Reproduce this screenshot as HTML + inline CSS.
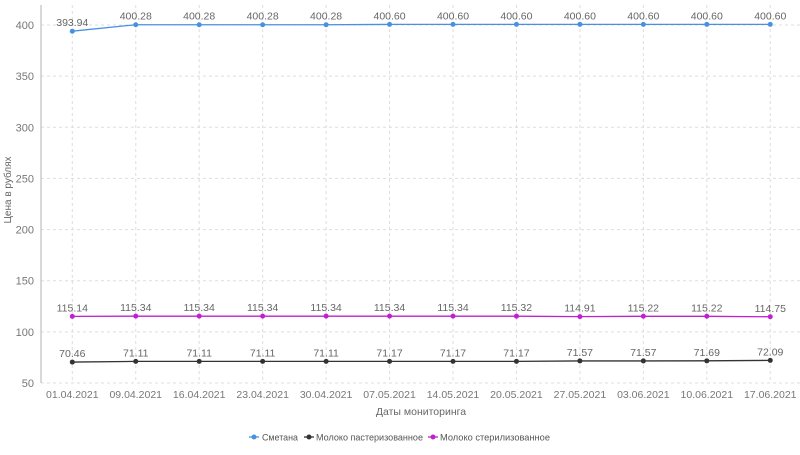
<!DOCTYPE html><html><head><meta charset="utf-8"><style>body{margin:0;background:#fff}svg{font-family:"Liberation Sans",sans-serif}</style></head><body>
<svg id="s" width="800" height="450" xmlns="http://www.w3.org/2000/svg"></svg>
<script>
const s=document.getElementById('s');let h='';
const Y=v=>383-(v-50)*358/350, X=i=>72.3+i*63.45;
const dates=['01.04.2021','09.04.2021','16.04.2021','23.04.2021','30.04.2021','07.05.2021','14.05.2021','20.05.2021','27.05.2021','03.06.2021','10.06.2021','17.06.2021'];
for(let v=50;v<=400;v+=50){h+=`<line x1="41" x2="800" y1="${Y(v)}" y2="${Y(v)}" stroke="#ddd" stroke-dasharray="3,3"/><text x="34" y="${Y(v)+4}" text-anchor="end" font-size="11" fill="#777">${v}</text>`;}
dates.forEach((d,i)=>{h+=`<line x1="${X(i)}" x2="${X(i)}" y1="5" y2="383" stroke="#ddd" stroke-dasharray="3,3"/><text x="${X(i)}" y="398" text-anchor="middle" font-size="10.5" fill="#777">${d}</text>`;});
h+=`<line x1="41" x2="41" y1="5" y2="383" stroke="#ccc" stroke-width="1.5"/>`;
const S=[['#4a90e2',[393.94,400.28,400.28,400.28,400.28,400.60,400.60,400.60,400.60,400.60,400.60,400.60]],
['#333',[70.46,71.11,71.11,71.11,71.11,71.17,71.17,71.17,71.57,71.57,71.69,72.09]],
['#c020d0',[115.14,115.34,115.34,115.34,115.34,115.34,115.34,115.32,114.91,115.22,115.22,114.75]]];
S.forEach(([c,d])=>{h+=`<polyline fill="none" stroke="${c}" stroke-width="1.3" points="${d.map((v,i)=>X(i)+','+Y(v)).join(' ')}"/>`;
d.forEach((v,i)=>{h+=`<circle cx="${X(i)}" cy="${Y(v)}" r="2.5" fill="${c}"/><text x="${X(i)}" y="${Y(v)-5}" text-anchor="middle" font-size="10.5" fill="#666">${v.toFixed(2)}</text>`;});});
h+=`<text x="421" y="415" text-anchor="middle" font-size="10.5" fill="#666">Даты мониторинга</text>`;
h+=`<text transform="translate(11,190) rotate(-90)" text-anchor="middle" font-size="10" fill="#666">Цена в рублях</text>`;
const L=[['#4a90e2',249,262,'Сметана',36],['#333',304,316,'Молоко пастеризованное',107],['#c020d0',428,440,'Молоко стерилизованное',110]];
L.forEach(([c,x,tx,t,w])=>{h+=`<line x1="${x}" x2="${x+10}" y1="437" y2="437" stroke="${c}" stroke-width="1.3"/><circle cx="${x+5}" cy="437" r="2.5" fill="${c}"/><text x="${tx}" y="440.5" font-size="9" fill="#555" textLength="${w}" lengthAdjust="spacingAndGlyphs">${t}</text>`;});
s.innerHTML=h;
</script></body></html>
